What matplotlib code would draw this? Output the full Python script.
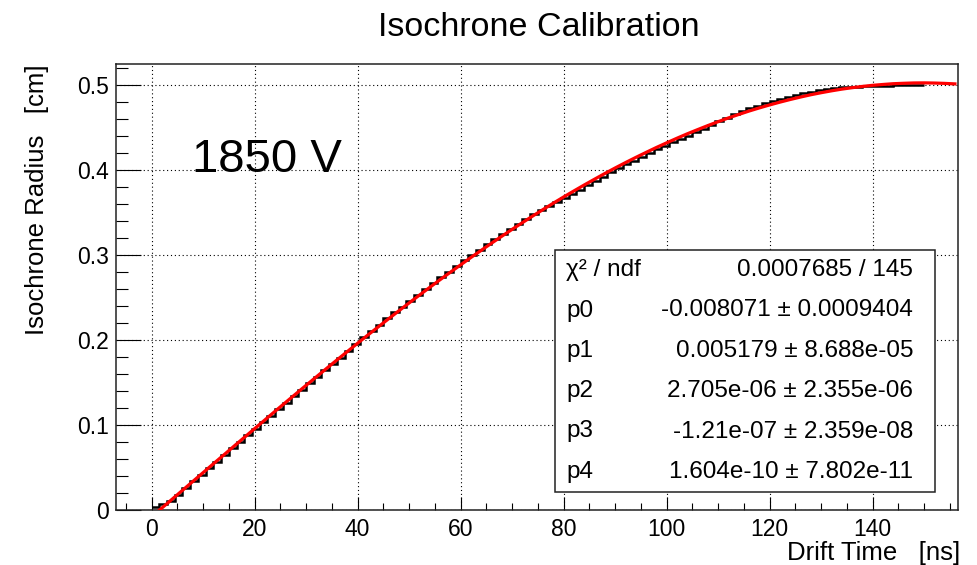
import numpy as np
import matplotlib
matplotlib.use("Agg")
import matplotlib.pyplot as plt
from matplotlib.patches import Rectangle
from matplotlib.ticker import MultipleLocator, FixedLocator, FuncFormatter

plt.rcParams['font.family'] = ['Liberation Sans', 'DejaVu Sans']

# ---------------- data ----------------
# histogram: 100 bins of 1.5 ns from 0 to 150 ns (isochrone radius, cm)
hist_start = 0.0
hist_width = 1.5
hist_values = [
    0.0030, 0.0065, 0.0105, 0.0180, 0.0258, 0.0336, 0.0414, 0.0492, 0.0570, 0.0647,
    0.0725, 0.0803, 0.0880, 0.0957, 0.1034, 0.1111, 0.1188, 0.1264, 0.1340, 0.1416,
    0.1492, 0.1567, 0.1642, 0.1716, 0.1790, 0.1868, 0.1949, 0.2033, 0.2110, 0.2182,
    0.2253, 0.2324, 0.2394, 0.2464, 0.2534, 0.2603, 0.2672, 0.2739, 0.2805, 0.2871,
    0.2936, 0.3000, 0.3064, 0.3127, 0.3189, 0.3250, 0.3309, 0.3368, 0.3426, 0.3482,
    0.3534, 0.3581, 0.3628, 0.3673, 0.3717, 0.3769, 0.3821, 0.3872, 0.3922, 0.3971,
    0.4018, 0.4065, 0.4111, 0.4156, 0.4200, 0.4243, 0.4284, 0.4325, 0.4364, 0.4403,
    0.4443, 0.4484, 0.4529, 0.4573, 0.4616, 0.4658, 0.4696, 0.4727, 0.4757, 0.4784,
    0.4812, 0.4838, 0.4863, 0.4885, 0.4904, 0.4922, 0.4938, 0.4952, 0.4966, 0.4972,
    0.4976, 0.4978, 0.4983, 0.4987, 0.4990, 0.4992, 0.4995, 0.4997, 0.4998, 0.5000,
]

# fitted curve (red), sampled every 2 ns
fit_t = [0, 2, 4, 6, 8, 10, 12, 14, 16, 18, 20, 22, 24, 26, 28, 30, 32, 34, 36, 38,
         40, 42, 44, 46, 48, 50, 52, 54, 56, 58, 60, 62, 64, 66, 68, 70, 72, 74, 76, 78,
         80, 82, 84, 86, 88, 90, 92, 94, 96, 98, 100, 102, 104, 106, 108, 110, 112, 114, 116, 118,
         120, 122, 124, 126, 128, 130, 132, 134, 136, 138, 140, 142, 144, 146, 148, 150, 152, 154, 156]
fit_r = [-0.0081, 0.0023, 0.0127, 0.0231, 0.0335, 0.0439, 0.0543, 0.0646, 0.0750, 0.0853,
         0.0956, 0.1059, 0.1162, 0.1264, 0.1365, 0.1466, 0.1566, 0.1666, 0.1765, 0.1863,
         0.1961, 0.2058, 0.2153, 0.2248, 0.2342, 0.2435, 0.2527, 0.2618, 0.2708, 0.2796,
         0.2883, 0.2970, 0.3054, 0.3138, 0.3220, 0.3301, 0.3380, 0.3458, 0.3534, 0.3609,
         0.3682, 0.3753, 0.3823, 0.3891, 0.3958, 0.4023, 0.4086, 0.4147, 0.4206, 0.4264,
         0.4319, 0.4373, 0.4425, 0.4474, 0.4522, 0.4568, 0.4612, 0.4653, 0.4693, 0.4730,
         0.4765, 0.4798, 0.4829, 0.4858, 0.4885, 0.4909, 0.4931, 0.4951, 0.4968, 0.4983,
         0.4996, 0.5006, 0.5015, 0.5020, 0.5024, 0.5025, 0.5023, 0.5019, 0.5013]

x_ticks = [0, 20, 40, 60, 80, 100, 120, 140]
y_ticks = [0, 0.1, 0.2, 0.3, 0.4, 0.5]

stat_labels = ['χ² / ndf', 'p0', 'p1', 'p2', 'p3', 'p4']
stat_values = ['0.0007685 / 145',
               '-0.008071 ± 0.0009404',
               '0.005179 ± 8.688e-05',
               '2.705e-06 ± 2.355e-06',
               '-1.21e-07 ± 2.359e-08',
               '1.604e-10 ± 7.802e-11']

# ---------------- figure ----------------
W, H = 977, 565
fig = plt.figure(figsize=(W/100, H/100), dpi=100)
L, R, T, B = 116, 958, 64, 510
ax = fig.add_axes([L/W, 1-B/H, (R-L)/W, (B-T)/H])

edges = hist_start + hist_width*np.arange(len(hist_values)+1)
ax.stairs(hist_values, edges, baseline=None, color='black', linewidth=1.8, zorder=3)
ax.plot(fit_t, fit_r, color='#ff0000', lw=2.3, zorder=4)

ax.set_xlim(-6.9, 156.6)
ax.set_ylim(0, 0.5247)
ax.xaxis.set_major_locator(FixedLocator(x_ticks))
ax.xaxis.set_minor_locator(MultipleLocator(5))
ax.yaxis.set_major_locator(FixedLocator(y_ticks))
ax.yaxis.set_minor_locator(MultipleLocator(0.02))
ax.yaxis.set_major_formatter(FuncFormatter(lambda v, pos: '0' if abs(v) < 1e-9 else '%g' % v))
ax.tick_params(axis='both', which='both', direction='in', top=False, right=False, colors='black', labelsize=16.5)
ax.tick_params(axis='x', which='major', length=9.4, width=0.8, pad=6)
ax.tick_params(axis='x', which='minor', length=5, width=0.8)
ax.tick_params(axis='y', which='major', length=18, width=0.8, pad=5)
ax.tick_params(axis='y', which='minor', length=8.6, width=0.8)
ax.grid(True, which='major', color='black', linestyle=(0, (1, 2.5)), linewidth=0.8)
for s in ax.spines.values():
    s.set_linewidth(1.1)
    s.set_color('#222222')

fig.text(539/W, 1-28/H, 'Isochrone Calibration', ha='center', va='center', fontsize=24.5)
fig.text(960/W, 1-553/H, 'Drift Time   [ns]', ha='right', va='center', fontsize=18.5)
fig.text(37/W, 1-64/H, 'Isochrone Radius   [cm]', ha='center', va='top', rotation=90, fontsize=18.5)
ax.text(7.9, 0.412, '1850 V', ha='left', va='center', fontsize=34)

bx0, bx1 = (555-L)/(R-L), (935-L)/(R-L)
by0, by1 = (B-492)/(B-T), (B-250)/(B-T)
ax.add_patch(Rectangle((bx0, by0), bx1-bx0, by1-by0, transform=ax.transAxes, facecolor='white',
                       edgecolor='#222222', lw=1.1, zorder=10))
rh = (by1-by0)/len(stat_labels)
for i, (a, b) in enumerate(zip(stat_labels, stat_values)):
    yy = by1 - (i+0.5)*rh
    ax.text((566-L)/(R-L), yy, a, transform=ax.transAxes, ha='left', va='center', fontsize=17.5, zorder=11)
    ax.text((913-L)/(R-L), yy, b, transform=ax.transAxes, ha='right', va='center', fontsize=17.5, zorder=11)

fig.savefig("out.png")
